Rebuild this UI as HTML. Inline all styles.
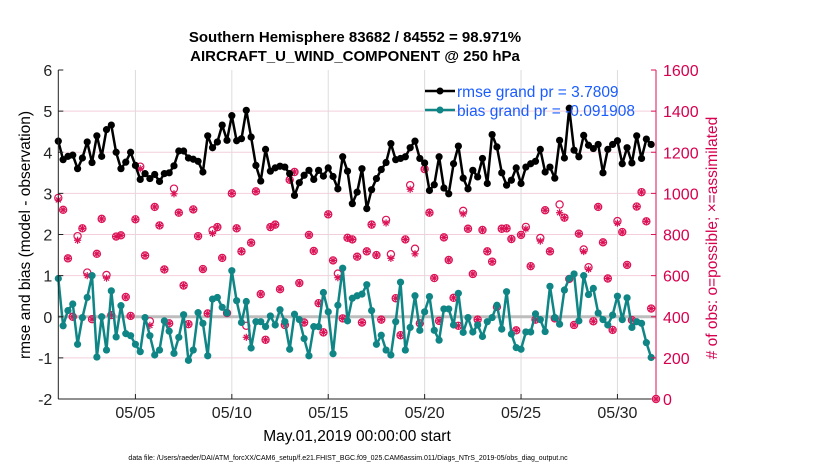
<!DOCTYPE html>
<html><head><meta charset="utf-8"><style>
body{margin:0;background:#fff;}
svg{display:block;font-family:"Liberation Sans",sans-serif;}
</style></head><body>
<svg id="chart" width="830" height="470" viewBox="0 0 830 470" xmlns="http://www.w3.org/2000/svg">
<rect width="830" height="470" fill="#fff"/>
<g id="grid"></g>
<g id="marks"></g>
<g id="axes"></g>
<text x="355" y="42" text-anchor="middle" font-size="15" font-weight="bold">Southern Hemisphere 83682 / 84552 = 98.971%</text>
<text x="355" y="61" text-anchor="middle" font-size="15" font-weight="bold">AIRCRAFT_U_WIND_COMPONENT @ 250 hPa</text>
<text x="357" y="441" text-anchor="middle" font-size="15.5">May.01,2019 00:00:00 start</text>
<text transform="translate(30,235) rotate(-90)" text-anchor="middle" font-size="15.5">rmse and bias (model - observation)</text>
<text transform="translate(717,238) rotate(-90)" text-anchor="middle" font-size="15.5" fill="#d6004f"># of obs: o=possible; ×=assimilated</text>
<text x="348" y="460" text-anchor="middle" font-size="7">data file: /Users/raeder/DAI/ATM_forcXX/CAM6_setup/f.e21.FHIST_BGC.f09_025.CAM6assim.011/Diags_NTrS_2019-05/obs_diag_output.nc</text>
<g>
<line x1="425" y1="91" x2="455" y2="91" stroke="#000" stroke-width="2.5"/>
<circle cx="440" cy="91" r="3.5" fill="#000"/>
<text x="457" y="97" font-size="15.5" fill="#1a5cff">rmse grand pr = 3.7809</text>
<line x1="425" y1="110" x2="455" y2="110" stroke="#0f8585" stroke-width="2.5"/>
<circle cx="440" cy="110" r="3.5" fill="#0f8585"/>
<text x="457" y="116" font-size="15.5" fill="#1a5cff">bias grand pr = -0.091908</text>
</g>
</svg>
<script>
const rmse=[4.27,3.82,3.9,3.93,3.6,3.86,4.25,3.75,4.4,3.9,4.55,4.66,4.0,3.6,3.76,4.0,3.68,3.34,3.48,3.36,3.46,3.29,3.48,3.5,3.67,4.03,4.03,3.86,3.83,3.78,3.52,4.4,4.11,4.25,4.66,4.29,4.89,4.28,4.33,5.02,4.37,3.68,3.3,4.07,3.54,3.62,3.66,3.64,3.48,2.95,3.26,3.44,3.56,3.34,3.56,3.42,3.62,3.41,3.11,3.89,3.54,2.75,3.03,3.6,2.63,3.09,3.36,3.58,3.75,4.21,3.82,3.85,3.89,4.11,4.27,3.85,3.74,3.07,3.21,3.89,3.13,2.99,3.72,4.15,3.37,3.11,3.56,3.4,3.85,3.24,4.43,4.13,3.5,3.2,3.32,3.62,3.24,3.64,3.72,3.78,4.07,3.52,3.64,3.37,4.29,3.86,5.07,4.05,3.89,4.41,4.17,4.09,4.19,3.5,4.07,4.19,4.28,3.72,4.11,3.74,4.4,3.85,4.32,4.19];
const bias=[0.93,-0.22,0.15,0.31,-0.67,-0.02,0.47,1.0,-0.98,0.0,-0.81,0.63,-0.49,0.27,-0.41,-0.46,-0.67,-0.85,-0.02,-0.46,-0.93,-0.81,-0.1,-0.35,-0.89,-0.5,0.05,-1.06,-0.81,0.1,-0.16,-0.95,0.43,0.47,0.23,0.09,1.12,0.39,-0.14,0.37,-0.76,-0.12,-0.12,-0.24,0.02,-0.2,0.17,-0.12,-0.79,0.06,-0.07,-0.53,-0.95,-0.24,-0.24,0.59,0.12,-0.9,0.28,1.18,-0.1,0.45,0.51,0.55,0.78,0.15,-0.67,-0.45,-0.81,-0.93,-0.12,0.84,-0.81,-0.26,0.51,-0.33,0.12,0.49,-0.33,-0.57,0.19,0.19,-0.2,0.57,-0.38,-0.02,-0.37,-0.2,-0.48,-0.12,-0.02,0.28,-0.3,0.61,-0.42,-0.75,-0.79,-0.37,-0.37,0.07,-0.07,-0.36,0.74,-0.02,-0.18,0.65,0.93,1.04,-0.1,1.0,0.54,0.69,0.09,-0.07,-0.2,0.04,0.5,-0.07,0.46,-0.26,-0.12,-0.16,-0.63,-0.99];
const obsAssimilated=[968,920,684,400,772,830,600,388,706,876,588,408,790,796,496,404,874,1120,698,358,934,844,630,368,998,906,552,364,922,792,632,416,805,836,686,418,1000,830,718,300,760,1010,510,288,836,848,534,360,1066,1104,564,372,798,720,466,324,898,674,590,392,784,776,692,372,718,848,700,386,856,684,490,310,776,1020,706,368,1118,906,588,380,786,676,492,356,900,828,608,386,822,718,668,448,828,830,778,334,798,827,646,386,768,918,718,392,906,882,584,360,804,717,631,378,934,762,586,336,855,812,652,384,936,1006,864,440,0];
const obsPossible=[978,920,684,400,792,830,615,388,706,876,603,408,790,796,496,404,874,1130,698,378,934,844,630,368,1023,906,552,364,922,792,632,416,820,836,686,418,1000,830,718,356,760,1010,510,288,836,848,534,360,1066,1104,564,372,798,720,466,324,898,674,610,392,784,776,692,372,718,848,700,386,871,704,490,310,776,1040,731,368,1118,906,588,380,786,676,492,356,915,828,608,386,822,718,668,448,828,830,778,334,798,837,646,386,783,918,718,392,946,882,584,360,804,727,641,378,934,762,586,336,865,812,652,384,936,1006,864,440,0];
const xTickDays=[4,9,14,19,24,29];
const xTickLabels=["05/05","05/10","05/15","05/20","05/25","05/30"];
const yLeftTicks=[-2,-1,0,1,2,3,4,5,6];
const yRightTicks=[0,200,400,600,800,1000,1200,1400,1600];

const NS="http://www.w3.org/2000/svg";
const L=58.3,R=656,T=70,B=399;
const xS=d=>L+d*(R-L)/31;
const yL=v=>T+(6-v)*(B-T)/8;
const yR=c=>B-c*(B-T)/1600;
function mk(tag,attrs,parent){const e=document.createElementNS(NS,tag);for(const k in attrs)e.setAttribute(k,attrs[k]);parent.appendChild(e);return e;}
const grid=document.getElementById('grid'),marks=document.getElementById('marks'),axes=document.getElementById('axes');

yLeftTicks.forEach(v=>{if(v===-2||v===6)return;const l=mk('line',{x1:L,x2:R,y1:yL(v),y2:yL(v),stroke:'#f3cfdc','stroke-width':1},grid);

});
xTickDays.forEach(d=>{const l=mk('line',{x1:xS(d),x2:xS(d),y1:T,y2:B,stroke:'#dcdcdc','stroke-width':1},grid);

});
const zl=mk('line',{x1:L,x2:R,y1:yL(0),y2:yL(0),stroke:'#bdbdbd','stroke-width':3},grid);



obsPossible.forEach((c,i)=>{const x=xS(i*0.25);
const ci=mk('circle',{cx:x,cy:yR(c),r:3.6,fill:'none',stroke:'#dc1256','stroke-width':1.2},marks);

});
obsAssimilated.forEach((c,i)=>{const x=xS(i*0.25),y=yR(c),r=3.6;
const g=mk('g',{stroke:'#dc1256','stroke-width':1.2},marks);


mk('line',{x1:x-r,x2:x+r,y1:y,y2:y},g);mk('line',{x1:x,x2:x,y1:y-r,y2:y+r},g);
mk('line',{x1:x-r*0.7,x2:x+r*0.7,y1:y-r*0.7,y2:y+r*0.7},g);mk('line',{x1:x-r*0.7,x2:x+r*0.7,y1:y+r*0.7,y2:y-r*0.7},g);});

function series(arr,color,name){
const pts=arr.map((v,i)=>xS(i*0.25).toFixed(1)+','+yL(v).toFixed(1)).join(' ');
const pl=mk('polyline',{points:pts,fill:'none',stroke:color,'stroke-width':2.5,'stroke-linejoin':'round'},marks);


arr.forEach((v,i)=>{const c=mk('circle',{cx:xS(i*0.25),cy:yL(v),r:3.6,fill:color},marks);

});}
series(bias,'#0f8585','bias');
series(rmse,'#000000','rmse');

const la=mk('line',{x1:L,x2:L,y1:T,y2:B,stroke:'#222','stroke-width':1},axes);


const ba=mk('line',{x1:L,x2:R,y1:B,y2:B,stroke:'#222','stroke-width':1},axes);


const ra=mk('line',{x1:R,x2:R,y1:T,y2:B,stroke:'#dc1256','stroke-width':1},axes);


yLeftTicks.forEach(v=>{const y=yL(v);mk('line',{x1:L,x2:L+5,y1:y,y2:y,stroke:'#222'},axes);
const t=mk('text',{x:L-6,y:y+6,'text-anchor':'end','font-size':16,fill:'#222'},axes);t.textContent=v;

});
yRightTicks.forEach(c=>{const y=yR(c);mk('line',{x1:R-5,x2:R,y1:y,y2:y,stroke:'#dc1256'},axes);
const t=mk('text',{x:R+7,y:y+6,'font-size':16,fill:'#d6004f'},axes);t.textContent=c;

});
xTickDays.forEach((d,i)=>{const x=xS(d);mk('line',{x1:x,x2:x,y1:B-5,y2:B,stroke:'#222'},axes);
const t=mk('text',{x:x,y:B+19,'text-anchor':'middle','font-size':16,fill:'#222'},axes);t.textContent=xTickLabels[i];

});
</script>
</body></html>
